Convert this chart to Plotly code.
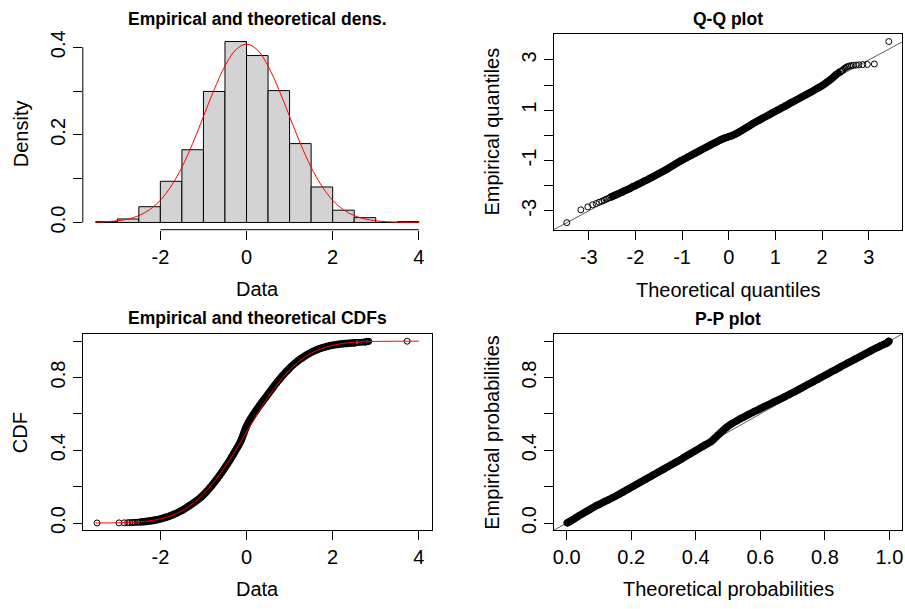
import plotly.graph_objects as go

# ---------------- data ----------------
hist_bin_edges = [-3.5, -3.0, -2.5, -2.0, -1.5, -1.0, -0.5, 0.0, 0.5, 1.0, 1.5, 2.0, 2.5, 3.0, 3.5, 4.0]
hist_density = [0.002, 0.008, 0.036, 0.094, 0.166, 0.299, 0.413, 0.381, 0.301, 0.180, 0.081, 0.028, 0.011, 0.0, 0.002]

curve_x = [-3.5, -3.25, -3.0, -2.75, -2.5, -2.25, -2.0, -1.75, -1.5, -1.25, -1.0, -0.75, -0.5, -0.25, 0.0,
           0.25, 0.5, 0.75, 1.0, 1.25, 1.5, 1.75, 2.0, 2.25, 2.5, 2.75, 3.0, 3.25, 3.5, 3.75, 4.0]
dens_curve_y = [0.0007, 0.0017, 0.0038, 0.0079, 0.0157, 0.0292, 0.0507, 0.0828, 0.1260, 0.1803, 0.2419, 0.3036,
                0.3571, 0.3941, 0.4071, 0.3941, 0.3571, 0.3036, 0.2419, 0.1803, 0.1260, 0.0828, 0.0507, 0.0292,
                0.0157, 0.0079, 0.0038, 0.0017, 0.0007, 0.0003, 0.0001]
cdf_curve_y = [0.0002, 0.0006, 0.0013, 0.0030, 0.0062, 0.0122, 0.0228, 0.0401, 0.0668, 0.1056, 0.1587, 0.2266,
               0.3085, 0.4013, 0.5000, 0.5987, 0.6915, 0.7734, 0.8413, 0.8944, 0.9332, 0.9599, 0.9772, 0.9878,
               0.9938, 0.9970, 0.9987, 0.9994, 0.9998, 0.9999, 1.0000]

# sorted sample points (subsample of the plotted observations)
emp_prob = [0.00025, 0.00075, 0.00125, 0.00175, 0.00225, 0.00275, 0.00325, 0.00375, 0.00425, 0.00475,
            0.0054, 0.0062, 0.0071, 0.0082, 0.0094, 0.0107, 0.0122, 0.0139, 0.0158, 0.0179, 0.0202, 0.0228,
            0.0256, 0.0287, 0.0322, 0.0359, 0.0401, 0.0446, 0.0495, 0.0548, 0.0606, 0.0668, 0.0735, 0.0808,
            0.0885, 0.0968,
            0.10, 0.11, 0.12, 0.13, 0.14, 0.15, 0.16, 0.17, 0.18, 0.19, 0.20, 0.21, 0.22, 0.23, 0.24, 0.25,
            0.26, 0.27, 0.28, 0.29, 0.30, 0.31, 0.32, 0.33, 0.34, 0.35, 0.36, 0.37, 0.38, 0.39, 0.40, 0.41,
            0.42, 0.43, 0.44, 0.45, 0.46, 0.47, 0.48, 0.49, 0.50, 0.51, 0.52, 0.53, 0.54, 0.55, 0.56, 0.57,
            0.58, 0.59, 0.60, 0.61, 0.62, 0.63, 0.64, 0.65, 0.66, 0.67, 0.68, 0.69, 0.70, 0.71, 0.72, 0.73,
            0.74, 0.75, 0.76, 0.77, 0.78, 0.79, 0.80, 0.81, 0.82, 0.83, 0.84, 0.85, 0.86, 0.87, 0.88, 0.89,
            0.90,
            0.9032, 0.9115, 0.9192, 0.9265, 0.9332, 0.9394, 0.9452, 0.9505, 0.9554, 0.9599, 0.9641, 0.9678,
            0.9713, 0.9744, 0.9772, 0.9798, 0.9821, 0.9842, 0.9861, 0.9878, 0.9893, 0.9906, 0.9918,
            0.99275, 0.99325, 0.99375, 0.99425, 0.99475, 0.99525, 0.99575, 0.99625, 0.99675, 0.99725,
            0.99775, 0.99825, 0.99875, 0.99925, 0.99975]

theo_quant = [-3.47, -3.17, -3.02, -2.92, -2.84, -2.78, -2.72, -2.67, -2.63, -2.59,
              -2.55, -2.50, -2.45, -2.40, -2.35, -2.30, -2.25, -2.20, -2.15, -2.10, -2.05, -2.00,
              -1.95, -1.90, -1.85, -1.80, -1.75, -1.70, -1.65, -1.60, -1.55, -1.50, -1.45, -1.40,
              -1.35, -1.30,
              -1.282, -1.227, -1.175, -1.126, -1.080, -1.036, -0.994, -0.954, -0.915, -0.878, -0.842, -0.806,
              -0.772, -0.739, -0.706, -0.674, -0.643, -0.613, -0.583, -0.553, -0.524, -0.496, -0.468, -0.440,
              -0.412, -0.385, -0.358, -0.332, -0.305, -0.279, -0.253, -0.228, -0.202, -0.176, -0.151, -0.126,
              -0.100, -0.075, -0.050, -0.025, 0.000, 0.025, 0.050, 0.075, 0.100, 0.126, 0.151, 0.176, 0.202,
              0.228, 0.253, 0.279, 0.305, 0.332, 0.358, 0.385, 0.412, 0.440, 0.468, 0.496, 0.524, 0.553,
              0.583, 0.613, 0.643, 0.674, 0.706, 0.739, 0.772, 0.806, 0.842, 0.878, 0.915, 0.954, 0.994,
              1.036, 1.080, 1.126, 1.175, 1.227, 1.282,
              1.30, 1.35, 1.40, 1.45, 1.50, 1.55, 1.60, 1.65, 1.70, 1.75, 1.80, 1.85, 1.90, 1.95, 2.00,
              2.05, 2.10, 2.15, 2.20, 2.25, 2.30, 2.35, 2.40,
              2.42, 2.44, 2.46, 2.49, 2.52, 2.55, 2.59, 2.63, 2.67, 2.73, 2.79, 2.87, 2.97, 3.12, 3.43]

data_sorted = [-3.47, -2.96, -2.84, -2.76, -2.71, -2.66, -2.62, -2.58, -2.54, -2.51,
               -2.47, -2.43, -2.39, -2.35, -2.31, -2.27, -2.22, -2.18, -2.14, -2.09, -2.04, -2.00,
               -1.95, -1.91, -1.86, -1.81, -1.77, -1.72, -1.67, -1.62, -1.57, -1.52, -1.47, -1.42,
               -1.37, -1.32,
               -1.293, -1.232, -1.175, -1.117, -1.067, -1.019, -0.978, -0.938, -0.900, -0.863, -0.827, -0.793,
               -0.759, -0.726, -0.693, -0.662, -0.631, -0.601, -0.571, -0.542, -0.513, -0.485, -0.457, -0.429,
               -0.402, -0.375, -0.351, -0.325, -0.300, -0.275, -0.251, -0.226, -0.202, -0.178, -0.155, -0.134,
               -0.116, -0.099, -0.083, -0.068, -0.053, -0.038, -0.022, -0.004, 0.016, 0.038, 0.062, 0.087,
               0.115, 0.140, 0.168, 0.196, 0.227, 0.255, 0.284, 0.315, 0.347, 0.376, 0.409, 0.442, 0.473,
               0.504, 0.535, 0.567, 0.597, 0.630, 0.661, 0.696, 0.728, 0.765, 0.799, 0.834, 0.874, 0.911,
               0.953, 0.994, 1.035, 1.084, 1.130, 1.184, 1.236,
               1.26, 1.31, 1.36, 1.41, 1.46, 1.51, 1.56, 1.61, 1.66, 1.71, 1.76, 1.82, 1.87, 1.92, 1.98,
               2.04, 2.11, 2.17, 2.25, 2.33, 2.41, 2.48, 2.54,
               2.56, 2.59, 2.63, 2.67, 2.71, 2.74, 2.76, 2.775, 2.785, 2.795, 2.805, 2.815, 2.82, 2.84, 3.73]

theo_prob = [0.0003, 0.0015, 0.0023, 0.0029, 0.0034, 0.0039, 0.0044, 0.0049, 0.0055, 0.0060,
             0.0068, 0.0075, 0.0084, 0.0094, 0.0104, 0.0116, 0.0132, 0.0146, 0.0162, 0.0183, 0.0207, 0.0228,
             0.0256, 0.0281, 0.0314, 0.0351, 0.0384, 0.0427, 0.0475, 0.0526, 0.0582, 0.0643, 0.0708, 0.0778,
             0.0853, 0.0934,
             0.098, 0.109, 0.120, 0.132, 0.143, 0.154, 0.164, 0.174, 0.184, 0.194, 0.204, 0.214, 0.224, 0.234,
             0.244, 0.254, 0.264, 0.274, 0.284, 0.294, 0.304, 0.314, 0.324, 0.334, 0.344, 0.354, 0.363,
             0.3725, 0.382, 0.3915, 0.401, 0.4105, 0.420, 0.430, 0.440, 0.449, 0.455, 0.461, 0.467, 0.473,
             0.479, 0.485, 0.491, 0.498, 0.506, 0.515, 0.525, 0.535, 0.546, 0.556, 0.567, 0.578, 0.590,
             0.601, 0.612, 0.624, 0.636, 0.647, 0.659, 0.671, 0.682, 0.693, 0.704, 0.715, 0.725, 0.736,
             0.746, 0.757, 0.767, 0.778, 0.788, 0.798, 0.809, 0.819, 0.830, 0.840, 0.850, 0.861, 0.871,
             0.882, 0.892,
             0.8962, 0.9049, 0.9131, 0.9207, 0.9279, 0.9345, 0.9406, 0.9463, 0.9515, 0.9564, 0.9608, 0.9656,
             0.9693, 0.9726, 0.9761, 0.9793, 0.9826, 0.9850, 0.9878, 0.9901, 0.9920, 0.9934, 0.9945,
             0.9948, 0.9952, 0.9957, 0.9962, 0.9966, 0.9969, 0.9971, 0.9972, 0.9973, 0.9974, 0.9975,
             0.9976, 0.9976, 0.9977, 0.9999]

# rank range (first and last index) where the plotted points overlap into a solid band
band_first, band_last = 10, 139

# tick labels
dens_xticks = [-2, 0, 2, 4]
dens_yticks = [0.0, 0.1, 0.2, 0.3, 0.4]
dens_ylabels = ['0.0', '', '0.2', '', '0.4']
qq_ticks = [-3, -2, -1, 0, 1, 2, 3]
qq_xlabels = ['-3', '-2', '-1', '0', '1', '2', '3']
qq_ylabels = ['-3', '', '-1', '', '1', '', '3']
cdf_xticks = [-2, 0, 2, 4]
prob_ticks = [0.0, 0.2, 0.4, 0.6, 0.8, 1.0]
prob_ylabels = ['0.0', '', '0.4', '', '0.8', '']
pp_xlabels = ['0.0', '0.2', '0.4', '0.6', '0.8', '1.0']

titles = ['Empirical and theoretical dens.', 'Q-Q plot', 'Empirical and theoretical CDFs', 'P-P plot']

# ---------------- figure ----------------
W, H = 905, 609
FONT = 'Liberation Sans, Arial, sans-serif'

def px(x):
    return x / W

def py(y):
    return 1 - y / H

xL = [px(82), px(431.7)]
xR = [px(554), px(903.3)]
yT = [py(228.7), py(30.7)]
yB = [py(533.3), py(334.3)]

fig = go.Figure()

bin_centers = [(a + b) / 2 for a, b in zip(hist_bin_edges[:-1], hist_bin_edges[1:])]
bin_widths = [b - a for a, b in zip(hist_bin_edges[:-1], hist_bin_edges[1:])]

fig.add_trace(go.Bar(x=bin_centers, y=hist_density, width=bin_widths,
                     marker=dict(color='#D3D3D3', line=dict(color='black', width=1)),
                     xaxis='x', yaxis='y'))
fig.add_trace(go.Scatter(x=curve_x, y=dens_curve_y, mode='lines', line=dict(color='red', width=1, shape='spline'),
                         xaxis='x', yaxis='y'))

marker = dict(symbol='circle-open', size=6, color='black', line=dict(width=1, color='black'))
band_line = dict(color='black', width=7.5, shape='spline', smoothing=0.6)
sl = slice(band_first, band_last + 1)

# Q-Q
fig.add_trace(go.Scatter(x=[-10, 10], y=[-10, 10], mode='lines', line=dict(color='#333', width=0.8),
                         xaxis='x2', yaxis='y2'))
fig.add_trace(go.Scatter(x=theo_quant[sl], y=data_sorted[sl], mode='lines', line=band_line,
                         xaxis='x2', yaxis='y2'))
fig.add_trace(go.Scatter(x=theo_quant, y=data_sorted, mode='markers', marker=marker, xaxis='x2', yaxis='y2'))

# CDF
fig.add_trace(go.Scatter(x=data_sorted[sl], y=emp_prob[sl], mode='lines', line=band_line,
                         xaxis='x3', yaxis='y3'))
fig.add_trace(go.Scatter(x=data_sorted, y=emp_prob, mode='markers', marker=marker, xaxis='x3', yaxis='y3'))
fig.add_trace(go.Scatter(x=curve_x, y=cdf_curve_y, mode='lines', line=dict(color='red', width=1, shape='spline'),
                         xaxis='x3', yaxis='y3'))

# P-P
fig.add_trace(go.Scatter(x=[-1, 2], y=[-1, 2], mode='lines', line=dict(color='#333', width=0.8),
                         xaxis='x4', yaxis='y4'))
fig.add_trace(go.Scatter(x=theo_prob, y=emp_prob, mode='lines', line=band_line,
                         xaxis='x4', yaxis='y4'))
fig.add_trace(go.Scatter(x=theo_prob, y=emp_prob, mode='markers', marker=marker, xaxis='x4', yaxis='y4'))

tickfont = dict(family=FONT, size=20, color='black')
common = dict(showgrid=False, zeroline=False, ticks='outside', ticklen=9, tickwidth=1, tickcolor='black',
              tickfont=tickfont, tickmode='array')
boxed = dict(showline=True, mirror=True, linecolor='black', linewidth=1)

fig.update_layout(
    width=W, height=H, margin=dict(l=0, r=0, t=0, b=0),
    paper_bgcolor='white', plot_bgcolor='white', showlegend=False,
    xaxis=dict(domain=xL, anchor='y', range=[-3.8, 4.3], tickvals=dens_xticks,
               ticktext=[str(v) for v in dens_xticks], showline=False, **common),
    yaxis=dict(domain=yT, anchor='x', range=[-0.0165, 0.4295], tickvals=dens_yticks, ticktext=dens_ylabels,
               tickangle=-90, showline=False, **common),
    xaxis2=dict(domain=xR, anchor='y2', range=[-3.75, 3.72], tickvals=qq_ticks, ticktext=qq_xlabels,
                **common, **boxed),
    yaxis2=dict(domain=yT, anchor='x2', range=[-3.75, 4.02], tickvals=qq_ticks, ticktext=qq_ylabels,
                tickangle=-90, **common, **boxed),
    xaxis3=dict(domain=xL, anchor='y3', range=[-3.8, 4.3], tickvals=cdf_xticks,
                ticktext=[str(v) for v in cdf_xticks], **common, **boxed),
    yaxis3=dict(domain=yB, anchor='x3', range=[-0.04, 1.04], tickvals=prob_ticks, ticktext=prob_ylabels,
                tickangle=-90, **common, **boxed),
    xaxis4=dict(domain=xR, anchor='y4', range=[-0.04, 1.04], tickvals=prob_ticks, ticktext=pp_xlabels,
                **common, **boxed),
    yaxis4=dict(domain=yB, anchor='x4', range=[-0.04, 1.04], tickvals=prob_ticks, ticktext=prob_ylabels,
                tickangle=-90, **common, **boxed),
)

# R-style partial axis lines for the histogram panel
fig.add_shape(type='line', xref='x', yref='y domain', x0=min(dens_xticks), x1=max(dens_xticks), y0=0, y1=0,
              line=dict(color='black', width=1))
fig.add_shape(type='line', xref='x domain', yref='y', x0=0, x1=0, y0=min(dens_yticks), y1=max(dens_yticks),
              line=dict(color='black', width=1))

ann = []
tfont = dict(family=FONT, size=17.5, color='black')
lfont = dict(family=FONT, size=20, color='black')
ann.append(dict(text='<b>' + titles[0] + '</b>', x=px(256.8), y=py(15), font=tfont))
ann.append(dict(text='<b>' + titles[1] + '</b>', x=px(728.7), y=py(15), font=tfont))
ann.append(dict(text='<b>' + titles[2] + '</b>', x=px(256.8), y=py(318), font=tfont))
ann.append(dict(text='<b>' + titles[3] + '</b>', x=px(728.7), y=py(319), font=tfont))
ann.append(dict(text='Data', x=px(256.8), y=py(289), font=lfont))
ann.append(dict(text='Density', x=px(20), y=py(131), font=lfont, textangle=-90))
ann.append(dict(text='Theoretical quantiles', x=px(728.7), y=py(290), font=lfont))
ann.append(dict(text='Empirical quantiles', x=px(491.7), y=py(129.7), font=lfont, textangle=-90))
ann.append(dict(text='Data', x=px(256.8), y=py(593), font=lfont))
ann.append(dict(text='CDF', x=px(19), y=py(434), font=lfont, textangle=-90))
ann.append(dict(text='Theoretical probabilities', x=px(728.7), y=py(593), font=lfont))
ann.append(dict(text='Empirical probabilities', x=px(491.7), y=py(433.8), font=lfont, textangle=-90))
for a in ann:
    a.update(xref='paper', yref='paper', showarrow=False, xanchor='center', yanchor='middle')
    fig.add_annotation(**a)

fig.write_html('out.html', config={'displayModeBar': False, 'staticPlot': True},
               post_script="document.body.style.margin='0px';document.body.style.overflow='hidden';")
